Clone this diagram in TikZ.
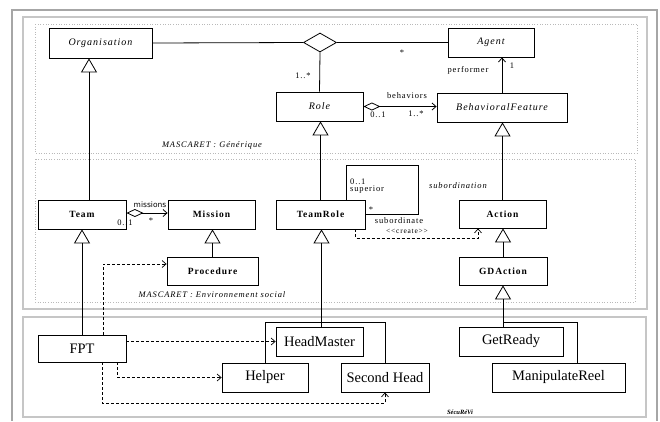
\documentclass[tikz,border=0pt]{standalone}
\usepackage{fontspec}
\setmainfont{Liberation Serif}
\newfontfamily\widef[LetterSpace=10]{Liberation Serif}
\newfontfamily\labsans{DejaVu Sans}
\usetikzlibrary{arrows.meta,shapes.geometric}
\begin{document}
\begin{tikzpicture}[x=1pt,y=-1pt,
  cls/.style={draw, line width=0.8pt, inner sep=0pt, align=center},
  topc/.style={cls, font=\widef\itshape\fontsize{10}{11}\selectfont},
  midc/.style={cls, font=\widef\bfseries\fontsize{9.5}{10}\selectfont},
  lowc/.style={cls, font=\fontsize{14.5}{16}\selectfont},
  lab/.style={font=\widef\fontsize{8.5}{9}\selectfont, inner sep=0pt},
  ilab/.style={font=\widef\itshape\fontsize{8.5}{9}\selectfont, inner sep=0pt},
  ln/.style={line width=0.8pt},
  gen/.style={ln, -{Triangle[open,length=14pt,width=16pt]}},
  nav/.style={ln, -{Straight Barb[length=4pt,width=7pt]}},
  agg/.style={ln, {Diamond[open,length=17pt,width=8pt]}-{Straight Barb[length=4pt,width=7pt]}},
  dep/.style={line width=0.7pt, dash pattern=on 3pt off 2pt, -{Straight Barb[length=4pt,width=7pt]}},
  frameln/.style={draw=gray!70, line width=2pt},
  panel/.style={draw=gray!45, line width=1.2pt},
  dotreg/.style={draw=gray!55, line width=0.6pt, dotted},
]
\useasboundingbox (0,0) rectangle (660,421);
\fill[white] (0,0) rectangle (660,421);
% frames
\draw[frameln] (12,421) -- (12,10) -- (657,10) -- (657,421);
\draw[panel] (23,17) rectangle (647,309);
\draw[panel] (23,317) rectangle (646,417);
\draw[dotreg] (35,24) rectangle (637,153);
\draw[dotreg] (35,159) rectangle (635,302);

% classes
\node[topc, minimum width=103pt, minimum height=30pt] (org) at (100.5,43) {Organisation};
\node[topc, minimum width=86pt, minimum height=29pt] (agent) at (491,42.5) {Agent};
\node[topc, minimum width=87pt, minimum height=29pt] (role) at (319.5,106.5) {Role};
\node[topc, minimum width=130pt, minimum height=29pt] (bf) at (502,107.5) {BehavioralFeature};
\node[diamond, draw, line width=0.8pt, inner sep=0pt, minimum width=33pt, minimum height=19pt] (dia) at (320,42.5) {};

\node[midc, minimum width=88pt, minimum height=29pt] (team) at (82,214.5) {Team};
\node[midc, minimum width=87pt, minimum height=29pt] (mission) at (211.5,214.5) {Mission};
\node[midc, minimum width=89pt, minimum height=29pt] (teamrole) at (320.5,214.5) {TeamRole};
\node[midc, minimum width=87pt, minimum height=28pt] (action) at (502.5,214) {Action};
\node[midc, minimum width=91pt, minimum height=28pt] (proc) at (212.5,271) {Procedure};
\node[midc, minimum width=88pt, minimum height=28pt] (gda) at (503,271) {GDAction};

\node[lowc, minimum width=88pt, minimum height=27pt] (fpt) at (82,348.5) {FPT};
\node[lowc, minimum width=87pt, minimum height=29pt] (hm) at (319.5,341.5) {HeadMaster};
\node[lowc, minimum width=86pt, minimum height=29pt] (helper) at (265,377.5) {Helper};
\node[lowc, minimum width=88pt, minimum height=29pt] (sh) at (385,377.5) {Second Head};
\node[lowc, minimum width=104pt, minimum height=29pt] (gr) at (511,341.5) {GetReady};
\node[lowc, minimum width=133pt, minimum height=29pt] (mr) at (558.5,377.5) {ManipulateReel};

% associations top
\draw[ln] (org.east) -- (dia.west);
\draw[ln] (dia.east) -- (agent.west);
\draw[ln] (dia.south) -- (role.north);
\draw[agg] (role.east) -- (role.east -| bf.west);
\draw[nav] (bf.north) -- (bf.north |- agent.south);

% generalizations
\coordinate (t1) at ([xshift=7pt]team.north);
\draw[gen] (t1) -- (t1 |- org.south);
\draw[gen] (teamrole.north) -- (teamrole.north |- role.south);
\draw[gen] (action.north) -- (action.north |- bf.south);
\draw[gen] (gda.north) -- (gda.north |- action.south);
\draw[gen] (proc.north) -- (proc.north |- mission.south);
\draw[gen] (fpt.north) -- (fpt.north |- team.south);
\coordinate (h1) at ([xshift=2pt]hm.north);
\draw[gen] (h1) -- (h1 |- teamrole.south);
\coordinate (g1) at (gr.north -| gda.south);
\draw[gen] (g1) -- (gda.south);
\draw[ln] (helper.north) -- ++(0,-40) -| (sh.north);
\coordinate (m1) at ([xshift=18.5pt]mr.north);
\draw[ln] (g1) -- ++(0,-4) -| (m1);

% middle associations
\draw[agg] ([yshift=1.5pt]team.east) -- ([yshift=1.5pt]mission.west);
\coordinate (s1) at ([xshift=25.5pt]teamrole.north);
\draw[ln] (s1) -- ++(0,-34) -- ++(72,0) |- ([yshift=0.5pt]teamrole.east);
\coordinate (c1) at ([xshift=35pt]teamrole.south);
\coordinate (c2) at ([xshift=-24.5pt]action.south);
\draw[dep] (c1) -- ++(0,9) -| (c2);

% dependencies from FPT
\coordinate (f1) at ([xshift=21pt]fpt.north);
\draw[dep] (f1) |- ([yshift=7pt]proc.west);
\draw[dep] (fpt.east |- hm.west) -- (hm.west);
\coordinate (f2) at ([xshift=35pt]fpt.south);
\draw[dep] (f2) |- (helper.west);
\coordinate (f3) at ([xshift=20pt]fpt.south);
\draw[dep] (f3) -- ++(0,41) -| (sh.south);

% labels
\node[lab] (l1) at (402,53) {*};
\node[lab] (l2) at (303,76) {1..*};
\node[lab] (l3) at (407,96) {behaviors};
\node[lab] (l4) at (378,115) {0..1};
\node[lab] (l5) at (416,114) {1..*};
\node[lab] (l6) at (468,70) {performer};
\node[lab] (l7) at (512,66) {1};
\node[font=\labsans\fontsize{7.5}{8}\selectfont, inner sep=0pt] (l8) at (150,205) {missions};
\node[lab] (l9) at (125,223) {0..1};
\node[lab] (l10) at (151,221) {*};
\node[lab, anchor=west, align=left] (l11) at (350,186) {0..1\\[-2pt]superior};
\node[lab] (l12) at (371,210) {*};
\node[lab] (l13) at (399,221) {subordinate};
\node[ilab] (l14) at (458,186) {subordination};
\node[lab, font=\widef\fontsize{7.5}{8}\selectfont] (l15) at (407,231) {<{}<create>{}>};
\node[ilab] (l16) at (212,145) {MASCARET : Générique};
\node[ilab] (l17) at (212,295) {MASCARET : Environnement social};
\node[ilab, font=\itshape\bfseries\fontsize{6.5}{7}\selectfont] (l18) at (460,412) {SécuRéVi};
\end{tikzpicture}
\end{document}
